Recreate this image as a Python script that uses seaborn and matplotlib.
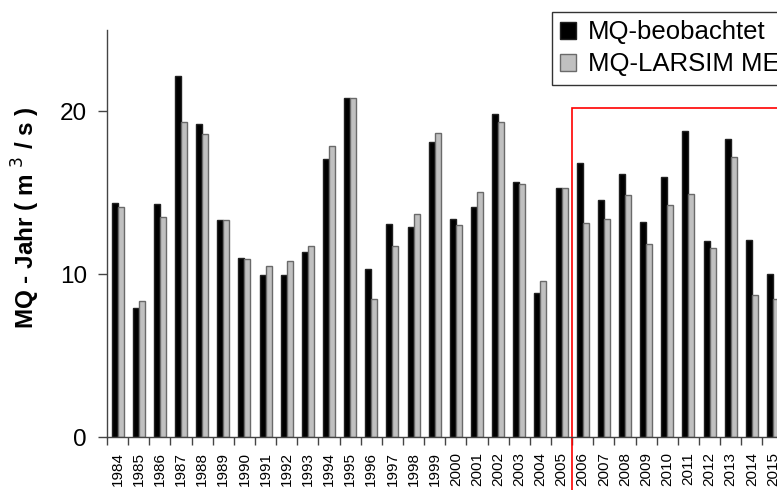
import matplotlib
matplotlib.use("Agg")
import matplotlib.pyplot as plt
from matplotlib.patches import Patch, Rectangle
from matplotlib.ticker import FixedLocator
import pandas as pd
import seaborn as sns

years = list(range(1984, 2016))
mq_beobachtet = [
    14.4, 7.9, 14.3, 22.2, 19.2, 13.3, 11.0, 9.95, 9.95, 11.35, 17.05,
    20.85, 10.3, 13.1, 12.9, 18.1, 13.4, 14.15, 19.85, 15.65, 8.85, 15.3,
    16.8, 14.55, 16.15, 13.2, 16.0, 18.8, 12.05, 18.3, 12.1, 10.0,
]
mq_larsim = [
    14.15, 8.35, 13.5, 19.35, 18.6, 13.35, 10.95, 10.5, 10.8, 11.75, 17.85,
    20.8, 8.45, 11.75, 13.7, 18.65, 13.0, 15.05, 19.35, 15.55, 9.6, 15.3,
    13.15, 13.4, 14.85, 11.85, 14.25, 14.9, 11.6, 17.2, 8.7, 8.5,
]
series_names = ["MQ-beobachtet", "MQ-LARSIM ME"]
highlight_from = 2006
highlight_top = 20.2

df = pd.DataFrame({
    "year": [str(y) for y in years] * 2,
    "value": mq_beobachtet + mq_larsim,
    "series": [series_names[0]] * len(years) + [series_names[1]] * len(years),
})

sns.set_theme(style="white")
plt.rcParams["font.family"] = ["Liberation Sans", "DejaVu Sans"]
plt.rcParams.update({"text.color": "black", "axes.labelcolor": "black",
                     "xtick.color": "black", "ytick.color": "black"})

fig = plt.figure(figsize=(7.77, 4.9), dpi=100)
ax = fig.add_axes([107 / 777, 53 / 490, 670 / 777, 407 / 490])

fills = {series_names[0]: "#000000", series_names[1]: "#c0c0c0"}
edges = {series_names[0]: "#202020", series_names[1]: "#6a6a6a"}
sns.barplot(data=df, x="year", y="value", hue="series", palette=fills,
            width=0.57, ax=ax, legend=False, saturation=1)
for cont, name in zip(ax.containers, series_names):
    for bar in cont:
        bar.set_edgecolor(edges[name])
        bar.set_linewidth(1.0)

n = len(years)
ax.set_xlim(-0.5, (777 - 117.3) / 21.15)
ax.set_ylim(0, 25)
ax.set_yticks([0, 10, 20])
ax.tick_params(axis="y", labelsize=17.5, length=6.5, width=1, color="#444444",
               direction="out", left=True, pad=8)
ax.set_xticks(range(n))
ax.set_xticklabels([str(y) for y in years], rotation=90, fontsize=11)
ax.tick_params(axis="x", which="major", length=0, pad=11)
ax.xaxis.set_minor_locator(FixedLocator([i - 0.5 for i in range(n + 1)]))
ax.tick_params(axis="x", which="minor", length=6, width=1, color="#444444",
               direction="out", bottom=True)
for side in ["top", "right"]:
    ax.spines[side].set_visible(False)
for side in ["left", "bottom"]:
    ax.spines[side].set_color("#444444")
    ax.spines[side].set_linewidth(1)

ax.set_xlabel("")
ax.set_ylabel("MQ - Jahr ( m $^{3}$ / s )", fontsize=17.5, fontweight="bold")
ax.yaxis.set_label_coords(-0.097, 0.54)

# red box marking the recent period
i0 = years.index(highlight_from) - 0.5
ax.add_patch(Rectangle((i0, -5), 20, highlight_top + 5, fill=False,
                       edgecolor="#ff0000", linewidth=1.2, clip_on=False))

handles = [Patch(facecolor=fills[s], edgecolor=edges[s], linewidth=1) for s in series_names]
leg = fig.legend(handles, series_names, loc="upper left",
                 bbox_to_anchor=(552 / 777, 1 - 12 / 490), fontsize=18.5,
                 frameon=True, fancybox=False, handlelength=0.62, handleheight=0.62,
                 handletextpad=0.45, borderpad=0.32, labelspacing=0.32, borderaxespad=0)
leg.get_frame().set_edgecolor("#000000")
leg.get_frame().set_linewidth(1)

fig.savefig("out.png", dpi=100)
